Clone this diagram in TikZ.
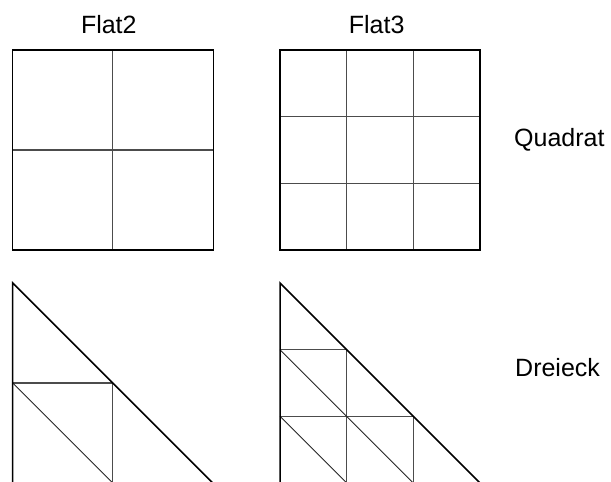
\documentclass[tikz,border=0pt]{standalone}
\usepackage{fontspec}
\setmainfont{Liberation Sans}
\begin{document}
\begin{tikzpicture}[x=1pt,y=-1pt,
  outer/.style={draw=black,line width=1.5pt},
  inner/.style={draw=black!70,line width=1.1pt},
  diag/.style={draw=black!85,line width=0.8pt},
  lbl/.style={font=\fontsize{25}{29}\selectfont,inner sep=0pt}]
\useasboundingbox (0,0) rectangle (611,482);
\clip (0,0) rectangle (611,482);
% Flat2 square
\draw[inner] (112.7,50) -- (112.7,250);
\draw[inner] (12.7,150) -- (213.3,150);
\draw[outer] (12.7,50) rectangle (213.3,250);
% Flat3 square
\draw[inner] (346.7,50) -- (346.7,250) (413.3,50) -- (413.3,250)
             (280,116.7) -- (480,116.7) (280,183.3) -- (480,183.3);
\draw[outer] (280,50) rectangle (480,250);
% Flat2 triangle
\draw[inner] (12.7,383) -- (112.7,383) -- (112.7,490);
\draw[diag] (12.7,383) -- (119.7,490);
\draw[outer] (12.7,490) -- (12.7,283) -- (219.7,490);
% Flat3 triangle
\draw[inner] (280,349.7) -- (346.7,349.7) -- (346.7,490)
             (280,416.3) -- (413.3,416.3) -- (413.3,490);
\draw[diag] (280,349.7) -- (420.3,490)
            (280,416.3) -- (353.7,490)
            (346.7,416.3) -- (420.3,490);
\draw[outer] (280,490) -- (280,283) -- (487,490);
% labels
\node[lbl,anchor=base] (f2) at (108.8,33.3) {Flat2};
\node[lbl,anchor=base] (f3) at (376.7,33.3) {Flat3};
\node[lbl,anchor=base west] (q) at (514,146.7) {Quadrat};
\node[lbl,anchor=base west] (d) at (515,376.7) {Dreieck};
\end{tikzpicture}
\end{document}
